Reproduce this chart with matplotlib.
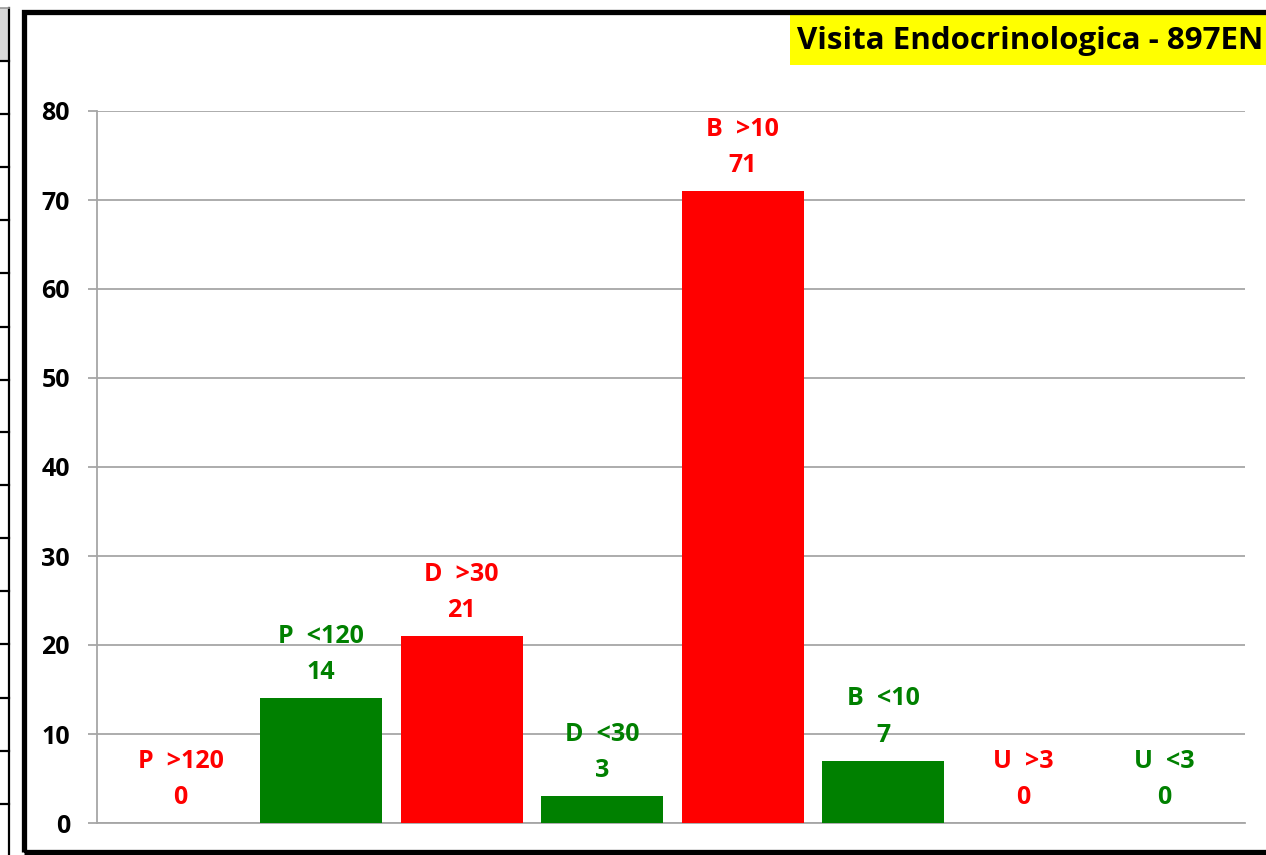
import matplotlib
matplotlib.use("Agg")
import matplotlib.pyplot as plt
from matplotlib.patches import Rectangle
from matplotlib.lines import Line2D

# data
labels = ["P  >120", "P  <120", "D  >30", "D  <30", "B  >10", "B  <10", "U  >3", "U  <3"]
values = [0, 14, 21, 3, 71, 7, 0, 0]
colors = ["#FF0000", "#008000", "#FF0000", "#008000", "#FF0000", "#008000", "#FF0000", "#008000"]
yticks = [0, 10, 20, 30, 40, 50, 60, 70, 80]
title = "Visita Endocrinologica - 897EN"

plt.rcParams['font.family'] = ['Open Sans', 'DejaVu Sans']
plt.rcParams['font.weight'] = 'bold'

W, H = 1266, 855
fig = plt.figure(figsize=(W / 100, H / 100), dpi=100)

def fx(px):
    return px / W

def fy(py):
    return 1 - py / H

ax = fig.add_axes([fx(97), fy(823), fx(1245) - fx(97), fy(111) - fy(823)])
x = list(range(len(values)))
ax.bar(x, values, width=0.87, color=colors, zorder=3)
ax.set_xlim(-0.595, 7.575)
ax.set_ylim(0, 80)
ax.set_yticks(yticks)
ax.set_xticks([])
ax.yaxis.grid(True, color="#a6a6a6", linewidth=1.3, zorder=0)
for s in ["top", "right"]:
    ax.spines[s].set_visible(False)
ax.spines["left"].set_color("#a6a6a6")
ax.spines["bottom"].set_color("#a6a6a6")
ax.spines["left"].set_linewidth(1.3)
ax.spines["bottom"].set_linewidth(1.3)
ax.tick_params(axis="y", length=6.5, width=1.3, color="#a6a6a6", labelsize=18, pad=13)
for t in ax.get_yticklabels():
    t.set_fontweight("bold")

for xi, v, lab, c in zip(x, values, labels, colors):
    ax.annotate(str(v), (xi, v), xytext=(0, 18.5), textcoords="offset points",
                ha="center", va="center", color=c, fontsize=18, fontweight="bold")
    ax.annotate(lab, (xi, v), xytext=(0, 44.5), textcoords="offset points",
                ha="center", va="center", color=c, fontsize=18, fontweight="bold")

# chart border
fig.patches.append(Rectangle((fx(24), fy(852)), fx(1290) - fx(24), fy(12) - fy(852),
                             transform=fig.transFigure, fill=False, edgecolor="black",
                             linewidth=3.8, zorder=5))

# title box
fig.patches.append(Rectangle((fx(790), fy(65)), fx(1266) - fx(790), fy(15) - fy(65),
                             transform=fig.transFigure, facecolor="#FFFF00", edgecolor="none",
                             zorder=4))
fig.text(fx(797), fy(41), title, ha="left", va="center", fontsize=22.5,
         fontweight="bold", color="black", zorder=6)

# fragment of neighbouring table on the left
fig.patches.append(Rectangle((0, fy(60)), fx(8), fy(8) - fy(60), transform=fig.transFigure,
                             facecolor="#d9d9d9", edgecolor="none"))
fig.lines.append(Line2D([fx(8.5), fx(8.5)], [fy(8), fy(855)], transform=fig.transFigure,
                        color="black", linewidth=1.6))
fig.lines.append(Line2D([0, fx(8.5)], [fy(8), fy(8)], transform=fig.transFigure,
                        color="#999999", linewidth=1.2))
for row in [61, 114, 167, 220, 273, 327, 380, 432, 485, 538, 591, 644, 698, 751, 804]:
    fig.lines.append(Line2D([0, fx(8.5)], [fy(row), fy(row)], transform=fig.transFigure,
                            color="black", linewidth=1.6))

fig.savefig("out.png", dpi=100)
